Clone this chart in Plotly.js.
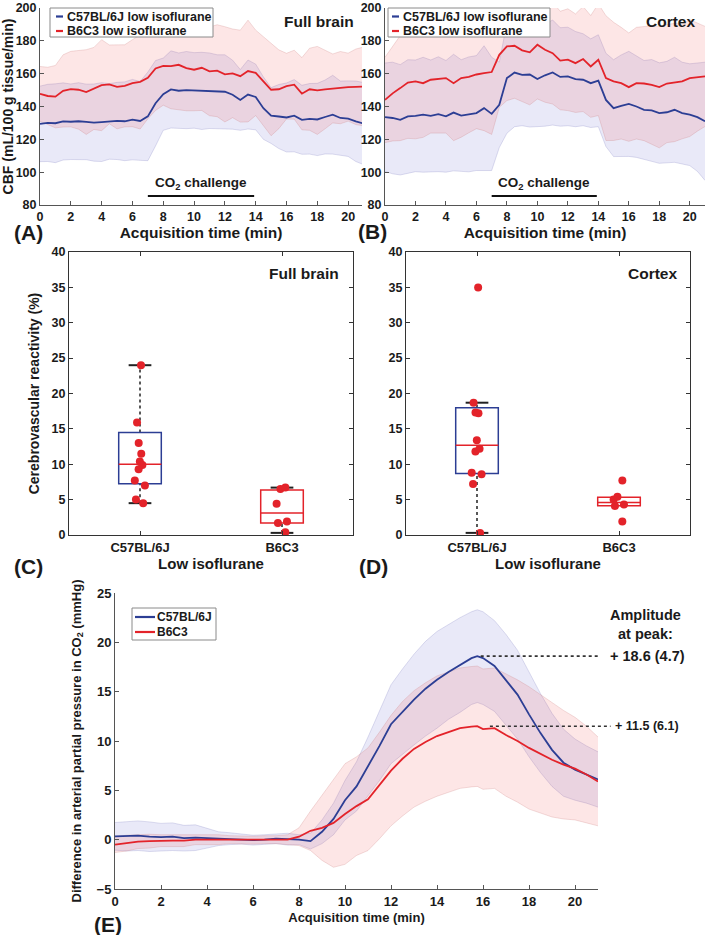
<!DOCTYPE html>
<html><head><meta charset="utf-8">
<script src="https://cdn.plot.ly/plotly-3.0.1.min.js"></script>
<style>html,body{margin:0;padding:0;background:#fff}#chart{width:709px;height:935px}</style>
</head><body><div id="chart"></div>
<script>
// ---------------- DATA ----------------
const seriesNamesAB = ['C57BL/6J low isoflurane', 'B6C3 low isoflurane'];
const seriesNamesE = ['C57BL/6J', 'B6C3'];
const groupLabels = ['C57BL/6J', 'B6C3'];
const regionLabels = ['Full brain', 'Cortex'];
const co2Window = [7, 13.9];

const timeAB = [0,0.5,1,1.5,2,2.5,3,3.5,4,4.5,5,5.5,6,6.5,7,7.5,8,8.5,9,9.5,10,10.5,11,11.5,12,12.5,13,13.5,14,14.5,15,15.5,16,16.5,17,17.5,18,18.5,19,19.5,20,20.5,21];

// Panel A: full brain CBF (mean and SD)
const fullC57Mean = [129.4,130.0,129.8,130.9,130.7,131.0,130.6,130.2,130.5,130.9,131.2,131.0,132.0,131.2,134.0,142.0,147.5,150.4,149.6,150.0,149.8,149.5,149.6,149.0,149.0,147.2,144.0,147.3,145.8,139.0,134.5,133.9,133.3,134.4,131.9,132.5,132.1,133.6,135.0,133.0,132.6,131.0,129.6];
const fullC57SD   = [23,23.5,24,23.5,23,23.5,23,23.5,24,23,23.5,24,24.5,24,27,26,22,23.5,23,23.5,23,23.5,23,22.5,22.5,21,18.5,21,20,19,17,19.5,21,22,21,21.5,22,22.5,24,22.5,23,24.5,25];
const fullB6Mean  = [147.7,146.4,146.0,149.5,150.6,150.2,148.8,151.0,153.0,153.5,152.0,152.6,154.2,155.0,157.5,163.2,164.8,164.6,165.4,163.4,162.4,163.6,161.4,161.8,159.6,160.2,158.5,161.6,160.5,155.3,150.2,150.5,152.4,153.3,147.8,150.5,149.8,150.4,151.0,151.5,151.8,152.0,152.2];
const fullB6SD    = [16.7,17.5,19,22,23,24,25.8,25,27.7,24,25.6,25,26.5,28.7,25,25.6,24,26,27.5,26,25,26,27,28,29,27,28,31,26,27,28,24,20,21,22,25,26.8,24,21,22,20.7,23,24];

// Panel B: cortex CBF (mean and SD)
const ctxC57Mean = [133.5,133.0,131.9,134.0,134.3,135.0,134.3,135.3,134.0,136.3,134.5,135.2,136.0,139.0,135.5,141.0,157.3,160.7,159.3,159.5,156.7,159.0,160.7,158.0,158.3,156.7,156.3,154.2,155.7,144.0,139.0,140.4,141.6,140.0,138.0,137.6,136.0,136.5,138.0,136.0,135.0,133.5,131.0];
const ctxC57SD   = [33,34,33.6,34.5,34,35,34,35,34,35.5,34,35,35,38,34.5,26,33.6,33,31,32,29,31,32,30,30,29,28,27,28,28.4,29.5,31,32,31,30,31,30.6,31,32,31,31,33,36];
const ctxB6Mean  = [144.0,148.0,151.2,154.6,155.3,154.2,156.3,156.7,157.3,154.2,157.3,158.0,159.5,160.3,161.0,171.5,176.6,177.0,174.2,173.0,177.6,174.6,172.5,168.0,168.5,166.4,168.9,164.4,168.5,157.3,155.3,154.2,151.8,154.2,154.0,153.2,151.8,154.0,154.6,155.3,157.3,158.0,158.3];
const ctxB6SD    = [26,29,32,34,35,33,32.5,33,33.5,35,36,34,33,35,38,32,33,32,31,32,33,32,31,30,31,30,32,31,34,38,36,34,33,34,34.8,36,37,36,36,35,35.6,33,30.5];

// Panels C/D: cerebrovascular reactivity (%) per animal and box statistics
const fullC57Pts = [24.0,15.9,13.0,11.5,10.4,9.9,9.3,7.7,7.0,5.0,4.5];
const fullB6Pts  = [6.7,6.5,4.4,1.9,1.7,0.4];
const ctxC57Pts  = [35.0,18.7,17.3,17.2,13.4,12.2,11.8,8.8,8.6,7.2,0.3];
const ctxB6Pts   = [7.7,5.4,5.0,4.3,4.1,1.9];
const fullQ1 = [7.26, 1.70], fullMedian = [10.0, 3.1], fullQ3 = [14.5, 6.36], fullWhiskLow = [4.5, 0.3], fullWhiskHigh = [24.0, 6.7];
const ctxQ1  = [8.68, 4.15], ctxMedian  = [12.7, 4.6], ctxQ3  = [18.0, 5.33], ctxWhiskLow  = [0.3, 4.15], ctxWhiskHigh  = [18.7, 5.33];

// Panel E: PaCO2 difference (mean and SD)
const timeE = [0,0.5,1,1.5,2,2.5,3,3.5,4,4.5,5,5.5,6,6.5,7,7.5,8,8.5,9,9.5,10,10.5,11,11.5,12,12.5,13,13.5,14,14.5,15,15.5,15.75,16,16.5,17,17.5,18,18.5,19,19.5,20,20.5,21];
const co2C57Mean = [0.34,0.35,0.4,0.3,0.25,0.3,0.15,0.2,0.15,0.1,0.1,0.05,-0.05,0.0,0.1,0.05,0.0,-0.15,0.8,2.1,4.0,5.4,7.4,9.5,11.7,13.0,14.2,15.3,16.2,17.0,17.7,18.4,18.6,18.4,17.6,16.2,14.7,12.7,10.8,9.1,7.8,7.1,6.6,6.1];
const co2C57SD   = [1.4,1.5,1.5,1.5,1.4,1.4,1.3,1.3,1.0,0.7,0.6,0.5,0.5,0.5,0.5,0.6,0.5,0.8,1.2,1.6,2.0,2.5,3.0,3.5,4.0,4.3,4.6,4.8,4.9,4.8,4.8,4.7,4.7,4.7,4.6,4.6,4.5,4.3,4.0,3.7,3.4,3.1,2.9,2.8];
const co2B6Mean  = [-0.5,-0.35,-0.2,-0.15,-0.1,-0.1,-0.1,0.0,0.0,0.0,0.0,-0.05,-0.05,0.0,0.0,0.0,0.3,0.9,1.2,1.7,2.6,3.4,4.1,5.5,7.0,8.2,9.2,9.9,10.5,10.9,11.3,11.45,11.5,11.2,11.3,10.6,10.0,9.3,8.7,8.1,7.6,7.2,6.6,5.9];
const co2B6SD    = [0.8,0.8,0.7,0.7,0.6,0.6,0.6,0.5,0.5,0.5,0.4,0.4,0.4,0.4,0.4,0.5,0.9,2.0,3.3,4.5,5.1,5.0,5.2,5.4,5.6,5.8,5.9,6.0,6.1,6.1,6.1,6.1,6.1,6.1,6.1,6.2,6.2,6.2,6.0,5.8,5.5,5.2,4.9,4.5];
const peakTimes = [15.9, 16.3];
const peakValues = [18.6, 11.5];
const peakSD = [4.7, 6.1];

// ---------------- STYLE / LAYOUT ----------------
const FONT = '"Liberation Sans", Arial, Helvetica, sans-serif';
const BLUE = '#2c3e94', RED = '#e3232a';
const BLUE_FILL = 'rgba(110,110,210,0.15)', RED_FILL = 'rgba(240,90,90,0.15)';
const BLUE_EDGE = 'rgba(120,120,190,0.35)', RED_EDGE = 'rgba(200,120,120,0.35)';
const W = 709, H = 935;
const PX = v => v / W, PY = v => 1 - v / H;
const TXT = '#1a1a1a';

const traces = [];
function band(t, mean, sd, fill, edge, xa, ya) {
  traces.push({type:'scatter', mode:'lines', x:t, y:mean.map((m,i)=>m - sd[i]), xaxis:xa, yaxis:ya,
    line:{color:edge, width:0.7}, hoverinfo:'skip', showlegend:false});
  traces.push({type:'scatter', mode:'lines', x:t, y:mean.map((m,i)=>m + sd[i]), xaxis:xa, yaxis:ya,
    line:{color:edge, width:0.7}, fill:'tonexty', fillcolor:fill, hoverinfo:'skip', showlegend:false});
}
function meanLine(t, mean, color, name, xa, ya) {
  traces.push({type:'scatter', mode:'lines', x:t, y:mean, name:name, xaxis:xa, yaxis:ya,
    line:{color:color, width:1.8}, showlegend:false});
}
// Panel A
band(timeAB, fullC57Mean, fullC57SD, BLUE_FILL, BLUE_EDGE, 'x', 'y');
band(timeAB, fullB6Mean, fullB6SD, RED_FILL, RED_EDGE, 'x', 'y');
meanLine(timeAB, fullC57Mean, BLUE, seriesNamesAB[0], 'x', 'y');
meanLine(timeAB, fullB6Mean, RED, seriesNamesAB[1], 'x', 'y');
// Panel B
band(timeAB, ctxC57Mean, ctxC57SD, BLUE_FILL, BLUE_EDGE, 'x2', 'y2');
band(timeAB, ctxB6Mean, ctxB6SD, RED_FILL, RED_EDGE, 'x2', 'y2');
meanLine(timeAB, ctxC57Mean, BLUE, seriesNamesAB[0], 'x2', 'y2');
meanLine(timeAB, ctxB6Mean, RED, seriesNamesAB[1], 'x2', 'y2');
// Panel E
band(timeE, co2C57Mean, co2C57SD, BLUE_FILL, BLUE_EDGE, 'x5', 'y5');
band(timeE, co2B6Mean, co2B6SD, RED_FILL, RED_EDGE, 'x5', 'y5');
meanLine(timeE, co2C57Mean, BLUE, seriesNamesE[0], 'x5', 'y5');
meanLine(timeE, co2B6Mean, RED, seriesNamesE[1], 'x5', 'y5');

// Panels C/D: points (jittered by plotly box trace) + box drawn as shapes below
const shapes = [];
const boxColors = [BLUE, RED];
function boxPanel(ptsList, q1, med, q3, wl, wh, xa, ya) {
  ptsList.forEach((pts, g) => {
    const pos = g + 1;
    traces.push({type:'box', x:pts.map(()=>pos), y:pts, xaxis:xa, yaxis:ya, name:groupLabels[g],
      boxpoints:'all', jitter:0.3, pointpos:0, width:0.3, fillcolor:'rgba(0,0,0,0)',
      line:{width:0, color:'rgba(0,0,0,0)'}, marker:{color:RED, size:8}, showlegend:false});
    const hw = 0.15, cw = 0.08;
    const ref = {xref:xa, yref:ya, layer:'below'};
    if (wh[g] > q3[g]) {
      shapes.push({...ref, type:'line', x0:pos, x1:pos, y0:q3[g], y1:wh[g], line:{color:'#222', width:1.5, dash:'dot'}});
      shapes.push({...ref, type:'line', x0:pos-cw, x1:pos+cw, y0:wh[g], y1:wh[g], line:{color:'#222', width:2}});
    }
    if (wl[g] < q1[g]) {
      shapes.push({...ref, type:'line', x0:pos, x1:pos, y0:wl[g], y1:q1[g], line:{color:'#222', width:1.5, dash:'dot'}});
      shapes.push({...ref, type:'line', x0:pos-cw, x1:pos+cw, y0:wl[g], y1:wl[g], line:{color:'#222', width:2}});
    }
    shapes.push({...ref, type:'rect', x0:pos-hw, x1:pos+hw, y0:q1[g], y1:q3[g], line:{color:boxColors[g], width:1.5}, fillcolor:'rgba(0,0,0,0)'});
    shapes.push({...ref, type:'line', x0:pos-hw, x1:pos+hw, y0:med[g], y1:med[g], line:{color:RED, width:1.5}});
  });
}
boxPanel([fullC57Pts, fullB6Pts], fullQ1, fullMedian, fullQ3, fullWhiskLow, fullWhiskHigh, 'x3', 'y3');
boxPanel([ctxC57Pts, ctxB6Pts], ctxQ1, ctxMedian, ctxQ3, ctxWhiskLow, ctxWhiskHigh, 'x4', 'y4');

// CO2 challenge bars (A, B)
['', '2'].forEach(s => {
  shapes.push({type:'line', xref:'x'+s, yref:'y'+s, x0:co2Window[0], x1:co2Window[1], y0:85.5, y1:85.5, line:{color:'#111', width:2}});
});
// dotted peak markers (E) in domain coordinates so they may pass the axis end
const eYmin = -5, eYmax = 25, eXmax = 21;
const peakLabelEnds = [1.005, 1.026];
peakValues.forEach((v, i) => {
  const yd = (v - eYmin) / (eYmax - eYmin);
  shapes.push({type:'line', xref:'x5 domain', yref:'y5 domain', x0:peakTimes[i]/eXmax, x1:peakLabelEnds[i], y0:yd, y1:yd,
    line:{color:'#333', width:1.6, dash:'dot'}});
});

// Manual legends
const annotations = [];
function legendBox(box, rows, sample, textX, size) {
  shapes.push({type:'rect', xref:'paper', yref:'paper', x0:PX(box[0]), x1:PX(box[2]), y0:PY(box[1]), y1:PY(box[3]),
    line:{color:'#8a8a8a', width:1}, fillcolor:'white', layer:'above'});
  rows.forEach(r => {
    shapes.push({type:'line', xref:'paper', yref:'paper', x0:PX(sample[0]), x1:PX(sample[1]), y0:PY(r.y), y1:PY(r.y),
      line:{color:r.color, width:2.2}, layer:'above'});
    annotations.push({xref:'paper', yref:'paper', x:PX(textX), y:PY(r.y), xanchor:'left', yanchor:'middle',
      text:r.text, showarrow:false, font:{family:FONT, size:size, color:TXT, weight:'bold'}});
  });
}
legendBox([50,8,213,37], [{y:16.5,color:BLUE,text:seriesNamesAB[0]},{y:31,color:RED,text:seriesNamesAB[1]}], [56,63], 65, 12.5);
legendBox([388,8,550,37], [{y:16.5,color:BLUE,text:seriesNamesAB[0]},{y:31,color:RED,text:seriesNamesAB[1]}], [392,399], 401, 12.5);
legendBox([132,608,216,640], [{y:617,color:BLUE,text:seriesNamesE[0]},{y:632,color:RED,text:seriesNamesE[1]}], [135,155], 155, 12);

function txt(x, y, text, size, xanchor, extra) {
  annotations.push(Object.assign({xref:'paper', yref:'paper', x:PX(x), y:PY(y), xanchor:xanchor||'left', yanchor:'middle',
    text:text, showarrow:false, font:{family:FONT, size:size, color:TXT, weight:'bold'}}, extra||{}));
}
txt(356, 21, regionLabels[0], 15.5, 'right');
txt(697, 21, regionLabels[1], 15.5, 'right');
txt(341, 273, regionLabels[0], 15.5, 'right');
txt(679, 273, regionLabels[1], 15.5, 'right');
txt(12, 232, '(A)', 21, 'left');
txt(356, 231, '(B)', 21, 'left');
txt(12, 566, '(C)', 21, 'left');
txt(357, 566, '(D)', 21, 'left');
txt(92, 924, '(E)', 21, 'left');
txt(645, 624, 'Amplitude<br>at peak:', 14.5, 'center', {align:'center'});
// CO2 challenge labels
['', '2'].forEach(s => {
  annotations.push({xref:'x'+s, yref:'y'+s, x:(co2Window[0]+co2Window[1])/2, y:93, text:'CO<sub>2</sub> challenge',
    showarrow:false, xanchor:'center', yanchor:'middle', font:{family:FONT, size:13.5, color:TXT, weight:'bold'}});
});
// peak value labels
const peakLabelX = [1.02, 1.032];
const peakLabelSize = [14.5, 12.5];
peakValues.forEach((v, i) => {
  annotations.push({xref:'x5 domain', yref:'y5', x:peakLabelX[i], y:v, xanchor:'left', yanchor:'middle',
    text:'+ ' + v.toFixed(1) + ' (' + peakSD[i].toFixed(1) + ')', showarrow:false,
    font:{family:FONT, size:peakLabelSize[i], color:TXT, weight:'bold'}});
});

const tickF = s => ({family:FONT, size:s, color:TXT, weight:'bold'});
function baseAx(extra) {
  return Object.assign({showline:true, linecolor:'#555', linewidth:1, ticks:'inside', ticklen:4, tickwidth:1, tickcolor:'#555',
    showgrid:false, zeroline:false, fixedrange:true}, extra);
}
const xTicksT = [0,2,4,6,8,10,12,14,16,18,20];
const layout = {
  width:W, height:H, margin:{l:0, r:0, t:0, b:0}, paper_bgcolor:'white', plot_bgcolor:'rgba(0,0,0,0)',
  showlegend:false, font:{family:FONT, color:TXT},
  xaxis: baseAx({domain:[PX(40), PX(362)], anchor:'y', range:[0,20.9], tickvals:xTicksT, tickfont:tickF(12.5),
    title:{text:'Acquisition time (min)', font:tickF(15.5), standoff:2}}),
  yaxis: baseAx({domain:[PY(205), PY(8)], anchor:'x', range:[80,200], dtick:20, tickfont:tickF(12.5),
    title:{text:'CBF (mL/100 g tissue/min)', font:tickF(14), standoff:1}}),
  xaxis2: baseAx({domain:[PX(385), PX(705)], anchor:'y2', range:[0,21], tickvals:xTicksT, tickfont:tickF(12.5),
    title:{text:'Acquisition time (min)', font:tickF(15.5), standoff:2}}),
  yaxis2: baseAx({domain:[PY(205), PY(8)], anchor:'x2', range:[80,200], dtick:20, tickfont:tickF(12.5)}),
  xaxis3: baseAx({domain:[PX(69), PX(353)], anchor:'y3', range:[0.5,2.5], tickvals:[1,2], ticktext:groupLabels, tickfont:tickF(13),
    mirror:'ticks', linecolor:'#333', tickcolor:'#333', title:{text:'Low isoflurane', font:tickF(15), standoff:4}}),
  yaxis3: baseAx({domain:[PY(535), PY(252)], anchor:'x3', range:[0,40], dtick:5, tickfont:tickF(12.5),
    mirror:'ticks', linecolor:'#333', tickcolor:'#333', title:{text:'Cerebrovascular reactivity (%)', font:tickF(14), standoff:8}}),
  xaxis4: baseAx({domain:[PX(406), PX(690)], anchor:'y4', range:[0.5,2.5], tickvals:[1,2], ticktext:groupLabels, tickfont:tickF(13),
    mirror:'ticks', linecolor:'#333', tickcolor:'#333', title:{text:'Low isoflurane', font:tickF(15), standoff:4}}),
  yaxis4: baseAx({domain:[PY(535), PY(252)], anchor:'x4', range:[0,40], dtick:5, tickfont:tickF(12.5),
    mirror:'ticks', linecolor:'#333', tickcolor:'#333'}),
  xaxis5: baseAx({domain:[PX(115), PX(598)], anchor:'y5', range:[0,eXmax], tickvals:xTicksT, tickfont:tickF(13),
    title:{text:'Acquisition time (min)', font:tickF(13), standoff:5}}),
  yaxis5: baseAx({domain:[PY(889), PY(593)], anchor:'x5', range:[eYmin,eYmax], dtick:5, tickfont:tickF(13),
    title:{text:'Difference in arterial partial pressure in CO<sub>2</sub> (mmHg)', font:tickF(13), standoff:12}}),
  shapes: shapes,
  annotations: annotations
};
Plotly.newPlot('chart', traces, layout, {staticPlot:true, displayModeBar:false});
</script></body></html>
